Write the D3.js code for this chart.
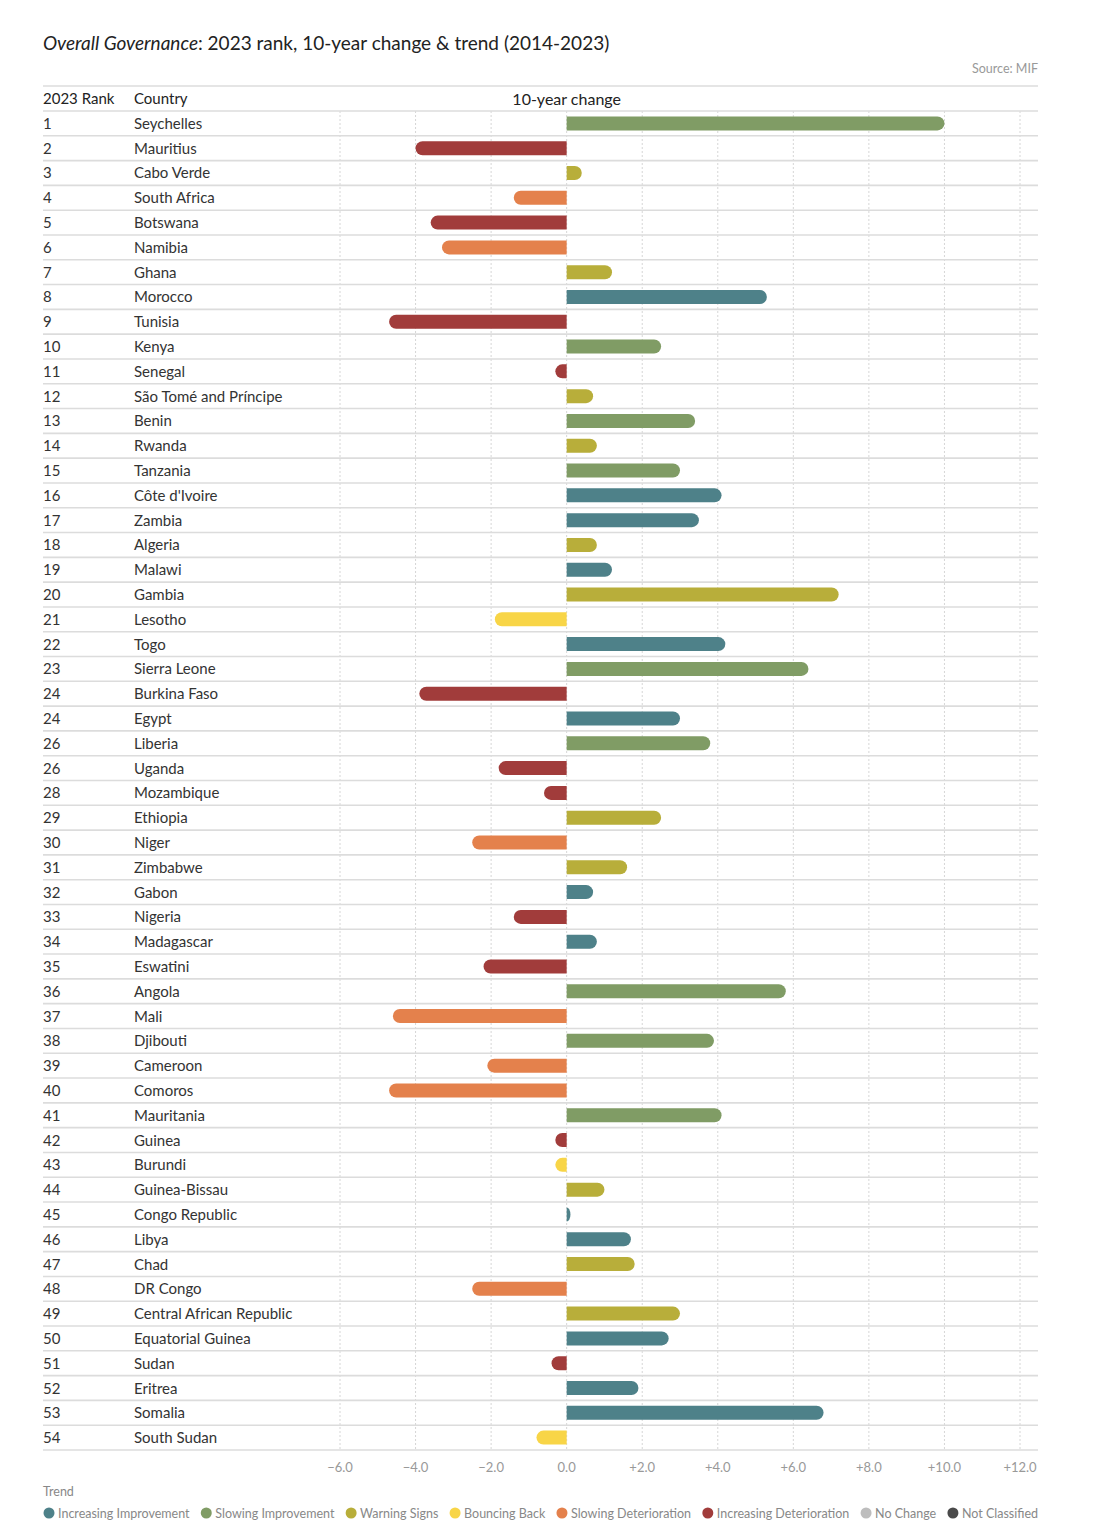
<html>
<head>
  <script src="https://d3js.org/d3.v7.min.js"></script>
  <style>
    body { margin: 0; background: #fff; font-family: Lato, "Noto Sans", sans-serif; }
    .grid line { stroke: #d6d6d6; stroke-dasharray: 2,2; }
    .rowline { stroke: #dcdcdc; stroke-width: 1.6; }
  </style>
</head>
<body>
<svg id="chart" width="1115" height="1536"></svg>
<script>
  // ranks, countries, 10-year change and trend category
  const ranks = [1,2,3,4,5,6,7,8,9,10,11,12,13,14,15,16,17,18,19,20,21,22,23,24,24,26,26,28,29,30,
                 31,32,33,34,35,36,37,38,39,40,41,42,43,44,45,46,47,48,49,50,51,52,53,54];
  const countries = ["Seychelles","Mauritius","Cabo Verde","South Africa","Botswana","Namibia","Ghana",
    "Morocco","Tunisia","Kenya","Senegal","São Tomé and Príncipe","Benin","Rwanda","Tanzania",
    "Côte d'Ivoire","Zambia","Algeria","Malawi","Gambia","Lesotho","Togo","Sierra Leone","Burkina Faso",
    "Egypt","Liberia","Uganda","Mozambique","Ethiopia","Niger","Zimbabwe","Gabon","Nigeria","Madagascar",
    "Eswatini","Angola","Mali","Djibouti","Cameroon","Comoros","Mauritania","Guinea","Burundi",
    "Guinea-Bissau","Congo Republic","Libya","Chad","DR Congo","Central African Republic",
    "Equatorial Guinea","Sudan","Eritrea","Somalia","South Sudan"];
  const changes = [10.0,-4.0,0.4,-1.4,-3.6,-3.3,1.2,5.3,-4.7,2.5,-0.3,0.7,3.4,0.8,3.0,4.1,3.5,0.8,1.2,7.2,
    -1.9,4.2,6.4,-3.9,3.0,3.8,-1.8,-0.6,2.5,-2.5,1.6,0.7,-1.4,0.8,-2.2,5.8,-4.6,3.9,-2.1,-4.7,4.1,-0.3,
    -0.3,1.0,0.1,1.7,1.8,-2.5,3.0,2.7,-0.4,1.9,6.8,-0.8];
  // II increasing improvement, SI slowing improvement, WS warning signs, BB bouncing back,
  // SD slowing deterioration, ID increasing deterioration
  const trends = ["SI","ID","WS","SD","ID","SD","WS","II","ID","SI","ID","WS","SI","WS","SI","II","II","WS",
    "II","WS","BB","II","SI","ID","II","SI","ID","ID","WS","SD","WS","II","ID","II","ID","SI","SD","SI",
    "SD","SD","SI","ID","BB","WS","II","II","WS","SD","WS","II","ID","II","II","BB"];
  const trendKeys = ["II","SI","WS","BB","SD","ID","NC","NA"];
  const trendNames = ["Increasing Improvement","Slowing Improvement","Warning Signs","Bouncing Back",
    "Slowing Deterioration","Increasing Deterioration","No Change","Not Classified"];
  const trendColors = ["#4e8189","#809c65","#b8ae3a","#f8d547","#e4814c","#a13c3b","#bdbdbd","#4a4a4a"];
  const ticks = [-6,-4,-2,0,2,4,6,8,10,12];

  const color = d3.scaleOrdinal().domain(trendKeys).range(trendColors);

  const svg = d3.select("#chart");
  const left = 43, right = 1038;
  const x = d3.scaleLinear().domain([-6, 12]).range([340, 1020]);
  const y = d3.scaleBand().domain(d3.range(countries.length)).range([111, 1450]);

  // title
  const title = svg.append("text").attr("x", left).attr("y", 50)
    .style("font-size", "19px").style("fill", "#222");
  title.append("tspan").style("font-style", "italic").text("Overall Governance");
  title.append("tspan").text(": 2023 rank, 10-year change & trend (2014-2023)");

  svg.append("text").attr("x", right).attr("y", 73).attr("text-anchor", "end")
    .style("font-size", "12.5px").style("fill", "#999").text("Source: MIF");

  // vertical dotted gridlines
  svg.append("g").attr("class", "grid")
    .selectAll("line").data(ticks).join("line")
    .attr("x1", d => x(d)).attr("x2", d => x(d))
    .attr("y1", 111).attr("y2", 1450);

  // header
  svg.append("line").attr("class", "rowline").attr("x1", left).attr("x2", right).attr("y1", 86).attr("y2", 86);
  svg.append("text").attr("x", left).attr("y", 104).style("font-size", "15px").style("fill", "#222").text("2023 Rank");
  svg.append("text").attr("x", 134).attr("y", 104).style("font-size", "15px").style("fill", "#222").text("Country");
  svg.append("text").attr("x", x(0)).attr("y", 105).attr("text-anchor", "middle")
    .style("font-size", "16px").style("fill", "#222").text("10-year change");

  // row separators
  svg.append("g").selectAll("line").data(d3.range(countries.length + 1)).join("line")
    .attr("class", "rowline")
    .attr("x1", left).attr("x2", right)
    .attr("y1", i => 111 + i * y.step()).attr("y2", i => 111 + i * y.step());

  const rows = svg.append("g").selectAll("g").data(countries).join("g")
    .attr("transform", (d, i) => `translate(0, ${y(i) + y.bandwidth() / 2})`);

  rows.append("text").attr("x", left).attr("y", 5.5)
    .style("font-size", "15px").style("fill", "#333").text((d, i) => ranks[i]);
  rows.append("text").attr("x", 134).attr("y", 5.5)
    .style("font-size", "15px").style("fill", "#333").text(d => d);

  // bars with rounded outer end
  const h = 14;
  rows.append("path")
    .attr("fill", (d, i) => color(trends[i]))
    .attr("d", (d, i) => {
      const v = changes[i];
      const x0 = x(0), x1 = x(v);
      const w = Math.abs(x1 - x0);
      const r = Math.min(h / 2, w);
      if (v >= 0) {
        return `M${x0},${-h/2} H${x1 - r} A${r},${h/2} 0 0 1 ${x1 - r},${h/2} H${x0} Z`;
      }
      return `M${x0},${-h/2} H${x1 + r} A${r},${h/2} 0 0 0 ${x1 + r},${h/2} H${x0} Z`;
    });

  // x-axis labels
  const fmt = d3.format("+.1f");
  svg.append("g").selectAll("text").data(ticks).join("text")
    .attr("x", d => x(d)).attr("y", 1472).attr("text-anchor", "middle")
    .style("font-size", "13px").style("fill", "#999")
    .text(d => d === 0 ? "0.0" : fmt(d));

  // legend
  svg.append("text").attr("x", left).attr("y", 1496).style("font-size", "12.5px").style("fill", "#888").text("Trend");
  let lx = left + 6;
  trendKeys.forEach((k, i) => {
    svg.append("circle").attr("cx", lx).attr("cy", 1513).attr("r", 5.5).attr("fill", color(k));
    const t = svg.append("text").attr("x", lx + 9).attr("y", 1517.5)
      .style("font-size", "12.5px").style("fill", "#888").text(trendNames[i]);
    lx += 9 + t.node().getComputedTextLength() + 16.7;
  });
</script>
</body>
</html>
